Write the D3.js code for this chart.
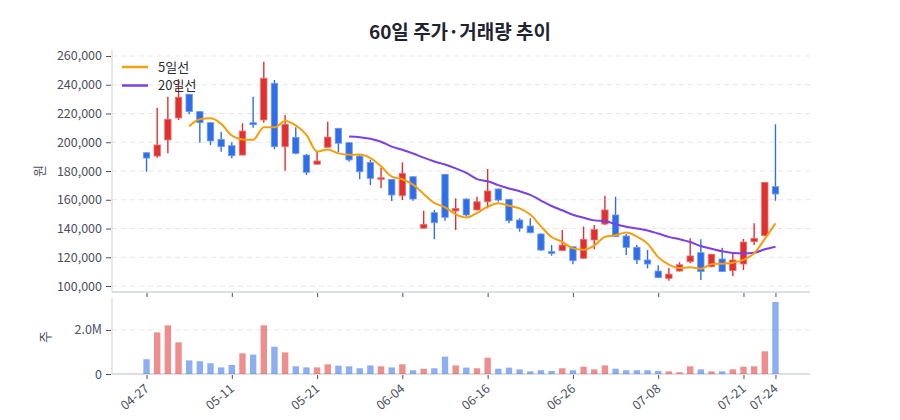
<!DOCTYPE html>
<html>
<head>
<meta charset="utf-8">
<script src="https://cdn.jsdelivr.net/npm/d3@7"></script>
<style>
  body { margin: 0; background: #fff; }
  text { font-family: "Noto Sans CJK KR", "Noto Sans", sans-serif; }
</style>
</head>
<body>
<div id="chart"></div>
<script>
// trading days (MM-DD)
const dates = ["04-27","04-28","04-29","04-30","05-04","05-06","05-07","05-08","05-11","05-12",
  "05-13","05-14","05-15","05-18","05-19","05-20","05-21","05-22","05-26","05-27",
  "05-28","05-29","06-01","06-02","06-04","06-05","06-08","06-09","06-10","06-11",
  "06-12","06-15","06-16","06-17","06-18","06-19","06-22","06-23","06-24","06-25",
  "06-26","06-29","06-30","07-01","07-02","07-03","07-06","07-07","07-08","07-09",
  "07-10","07-13","07-14","07-15","07-16","07-20","07-21","07-22","07-23","07-24"];

const opens = [192700,190400,201600,216900,233400,221300,213600,202000,197600,191100,
  213600,215500,241000,196900,203400,191100,184700,196500,209700,199700,
  190400,186000,174200,174200,162800,176000,140200,151000,177700,152200,
  160500,152900,158600,167500,160300,145900,141700,136200,123900,124600,
  127300,119300,132000,143100,149400,134800,126900,118100,110400,105300,
  110400,116900,123200,113400,118800,110700,115300,130800,135000,169100];
const highs = [193000,224000,231700,244000,233600,221500,213800,207300,200000,213200,
  231700,256000,243300,219000,210400,191800,193400,214300,210000,200000,
  191100,187700,182300,174500,186000,176500,152400,152900,178000,161000,
  161000,162100,181400,167800,160500,147100,147100,136500,128500,139000,
  127500,141300,142400,162800,162100,136200,128500,125000,114400,112500,
  116500,133200,132500,122300,126600,122700,132700,143600,172300,212500];
const lows = [179500,189300,192300,215500,219400,199700,198100,193400,188800,190800,
  210000,213600,195100,180200,191600,177200,184500,196300,193000,186500,
  174200,170300,168000,159100,159800,159300,140000,132500,145400,139000,
  148200,152500,154000,158600,143600,137800,136700,124500,121100,124500,
  115100,119000,125500,142400,134000,121600,115300,112300,105500,103700,
  110000,115800,104200,113000,109800,107000,111100,128500,134800,159300];
const closes = [189000,198100,216000,231300,221300,213600,200900,196900,190600,207800,
  212200,244500,196900,212500,192300,179100,187000,203600,199300,187700,
  179500,174900,175300,163300,178400,160500,142900,144000,147800,154000,
  149400,158600,166100,159800,145400,140200,137100,125000,122700,128500,
  117600,132500,139400,152900,134300,126900,118100,115300,105800,108300,
  114800,120900,110000,122100,110000,118100,130600,133200,172100,164000];
const volumes = [0.67,1.89,2.21,1.44,0.62,0.58,0.49,0.30,0.41,0.94,
  0.88,2.21,1.24,0.98,0.35,0.30,0.30,0.44,0.38,0.35,
  0.26,0.39,0.35,0.30,0.44,0.17,0.24,0.26,0.79,0.39,
  0.29,0.26,0.74,0.24,0.29,0.21,0.12,0.17,0.14,0.26,
  0.17,0.33,0.21,0.39,0.24,0.17,0.17,0.17,0.14,0.12,
  0.08,0.35,0.21,0.12,0.12,0.21,0.33,0.35,1.03,3.27].map(v => v * 1e6);

const priceTicks = [100000,120000,140000,160000,180000,200000,220000,240000,260000];
const volTicks = [0, 2000000];
const tickIdx = [0, 8, 16, 24, 32, 40, 48, 56, 59];

const width = 900, height = 420;
const left = 112, right = 810;
const priceTop = 50, priceBottom = 292;
const volTop = 298, volBottom = 374;

const up = "#e03131", down = "#2f6ee6";
const data = dates.map((d, i) => ({
  date: d, open: opens[i], high: highs[i], low: lows[i], close: closes[i], vol: volumes[i]
}));

function movingAvg(n) {
  return data.map((d, i) => {
    if (i < n - 1) return null;
    return { date: d.date, v: d3.mean(closes.slice(i - n + 1, i + 1)) };
  }).filter(d => d);
}

const x = d3.scalePoint()
  .domain(dates)
  .range([left, right])
  .padding(3.24);

const y = d3.scaleLinear()
  .domain([95830, 264170])
  .range([priceBottom, priceTop]);

const yv = d3.scaleLinear()
  .domain([0, 3.45e6])
  .range([volBottom, volTop]);

const svg = d3.select("#chart").append("svg")
  .attr("width", width)
  .attr("height", height);

// title
svg.append("text")
  .attr("x", 460).attr("y", 39)
  .attr("text-anchor", "middle")
  .attr("font-size", 19).attr("font-weight", 700)
  .attr("fill", "#1f2430")
  .text("60일 주가·거래량 추이");

// grid
svg.append("g").selectAll("line")
  .data(priceTicks).enter().append("line")
  .attr("x1", left).attr("x2", right)
  .attr("y1", d => y(d)).attr("y2", d => y(d))
  .attr("stroke", "#e6e6e9").attr("stroke-dasharray", "5,4");

svg.append("g").selectAll("line")
  .data(volTicks.slice(1)).enter().append("line")
  .attr("x1", left).attr("x2", right)
  .attr("y1", d => yv(d)).attr("y2", d => yv(d))
  .attr("stroke", "#e6e6e9").attr("stroke-dasharray", "5,4");

// axes
function styleAxis(g) {
  g.select(".domain").remove();
  g.selectAll(".tick line").attr("stroke", "#4b5160");
  g.selectAll(".tick text").attr("fill", "#4b5160").attr("font-size", 12.5);
}

svg.append("g")
  .attr("transform", `translate(${left - 1},0)`)
  .call(d3.axisLeft(y).tickValues(priceTicks).tickSize(5).tickPadding(4).tickFormat(d3.format(",")))
  .call(styleAxis);

svg.append("g")
  .attr("transform", `translate(${left - 1},0)`)
  .call(d3.axisLeft(yv).tickValues(volTicks).tickSize(5).tickPadding(4)
    .tickFormat(d => d === 0 ? "0" : (d / 1e6).toFixed(1) + "M"))
  .call(styleAxis);

// panel borders
svg.append("line").attr("x1", left).attr("x2", left).attr("y1", priceTop).attr("y2", priceBottom)
  .attr("stroke", "#d5d8de").attr("stroke-width", 1.2);
svg.append("line").attr("x1", left).attr("x2", right).attr("y1", priceBottom).attr("y2", priceBottom)
  .attr("stroke", "#dcdfe4").attr("stroke-width", 2);
svg.append("line").attr("x1", left).attr("x2", left).attr("y1", volTop).attr("y2", volBottom)
  .attr("stroke", "#d5d8de").attr("stroke-width", 1.2);
svg.append("line").attr("x1", left).attr("x2", right).attr("y1", volBottom).attr("y2", volBottom)
  .attr("stroke", "#dcdfe4").attr("stroke-width", 2);

const tickDates = tickIdx.map(i => dates[i]);

svg.append("g")
  .attr("transform", `translate(0,${priceBottom + 1})`)
  .call(d3.axisBottom(x).tickValues(tickDates).tickSize(4).tickFormat(""))
  .call(styleAxis);

svg.append("g")
  .attr("transform", `translate(0,${volBottom + 1})`)
  .call(d3.axisBottom(x).tickValues(tickDates).tickSize(4))
  .call(styleAxis)
  .selectAll(".tick text")
  .attr("text-anchor", "end")
  .attr("dx", "-0.6em").attr("dy", "0.5em")
  .attr("transform", "rotate(-40)");

// axis titles
svg.append("text")
  .attr("transform", `translate(44,171) rotate(-90)`)
  .attr("text-anchor", "middle")
  .attr("font-size", 13).attr("fill", "#4b5160")
  .text("원");
svg.append("text")
  .attr("transform", `translate(50,337) rotate(-90)`)
  .attr("text-anchor", "middle")
  .attr("font-size", 13).attr("fill", "#4b5160")
  .text("주");

// candles
const bodyW = 6.4;
const candles = svg.append("g").selectAll("g")
  .data(data).enter().append("g");

candles.append("line")
  .attr("x1", d => x(d.date)).attr("x2", d => x(d.date))
  .attr("y1", d => y(d.high)).attr("y2", d => y(d.low))
  .attr("stroke", d => d.close >= d.open ? up : down)
  .attr("stroke-width", 1.4);

candles.append("rect")
  .attr("x", d => x(d.date) - bodyW / 2)
  .attr("width", bodyW)
  .attr("y", d => y(Math.max(d.open, d.close)))
  .attr("height", d => Math.max(1.5, Math.abs(y(d.open) - y(d.close))))
  .attr("fill", d => d.close >= d.open ? up : down)
  .attr("stroke", d => d.close >= d.open ? "#f07070" : "#6f9bf0")
  .attr("stroke-width", 0.8);

// volume bars
svg.append("g").selectAll("rect")
  .data(data).enter().append("rect")
  .attr("x", d => x(d.date) - bodyW / 2)
  .attr("width", bodyW)
  .attr("y", d => yv(d.vol))
  .attr("height", d => yv(0) - yv(d.vol))
  .attr("fill", d => d.close >= d.open ? up : down)
  .attr("fill-opacity", 0.55);

// moving averages
const line = d3.line()
  .x(d => x(d.date))
  .y(d => y(d.v))
  .curve(d3.curveMonotoneX);

svg.append("path").datum(movingAvg(20))
  .attr("d", line).attr("fill", "none")
  .attr("stroke", "#7b3fe4").attr("stroke-width", 2);

svg.append("path").datum(movingAvg(5))
  .attr("d", line).attr("fill", "none")
  .attr("stroke", "#f59f0a").attr("stroke-width", 2);

// legend
const legend = [{ name: "5일선", color: "#f59f0a" }, { name: "20일선", color: "#7b3fe4" }];
const lg = svg.append("g").selectAll("g")
  .data(legend).enter().append("g")
  .attr("transform", (d, i) => `translate(122,${67 + i * 18.5})`);
lg.append("line").attr("x1", 0).attr("x2", 26)
  .attr("stroke", d => d.color).attr("stroke-width", 2.5);
lg.append("text").attr("x", 36).attr("y", 4.5)
  .attr("font-size", 13).attr("fill", "#2a2e36")
  .text(d => d.name);
</script>
</body>
</html>
